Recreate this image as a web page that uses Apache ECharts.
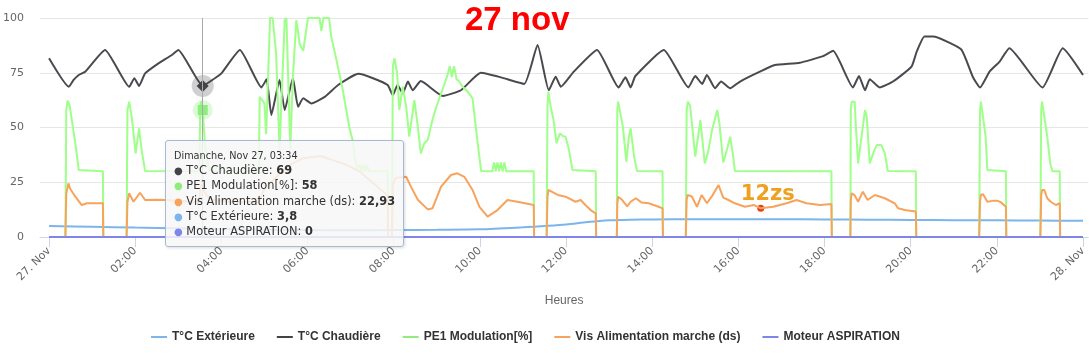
<!DOCTYPE html>
<html>
<head>
<meta charset="utf-8">
<script src="https://cdn.jsdelivr.net/npm/echarts@6/dist/echarts.min.js"></script>
<style>
html, body { margin: 0; padding: 0; background: #fff; }
#chart { width: 1089px; height: 353px; }
</style>
</head>
<body>
<div id="chart"></div>
<script>
// heures (0 = 27 nov 00:00, 24 = 28 nov 00:00)
var tickHours = [0, 2, 4, 6, 8, 10, 12, 14, 16, 18, 20, 22, 24];
var yTicks = [0, 25, 50, 75, 100];

// T°C Extérieure
var hExt = [0, 1, 2, 3, 3.567, 4.5, 6, 7, 8, 9, 10, 11, 11.5, 12, 12.5, 13, 13.5, 14, 15, 16, 17, 18, 19, 20, 21, 22, 23, 24];
var vExt = [5.0, 4.7, 4.3, 4.0, 3.8, 3.5, 3.2, 3.1, 3.2, 3.3, 3.5, 4.4, 5.0, 5.7, 6.8, 7.6, 7.9, 8.0, 8.1, 8.1, 8.1, 8.0, 7.9, 7.8, 7.7, 7.6, 7.5, 7.4];

// T°C Chaudière
var hChaud = [0, 0.46, 0.57, 0.69, 0.84, 1.30, 1.86, 1.98, 2.09, 2.23, 2.54, 2.85, 3.00, 3.567, 3.85, 4.00, 4.43, 4.93, 5.05, 5.16, 5.35, 5.47, 5.66, 5.78, 5.90, 6.09, 6.40, 6.71, 7.18, 7.52, 7.86, 7.98, 8.09, 8.21, 8.33, 8.44, 8.63, 9.14, 9.56, 10.02, 10.49, 11.03, 11.34, 11.60, 11.76, 11.88, 12.18, 12.72, 13.22, 13.38, 13.50, 13.61, 14.27, 14.84, 15.00, 15.16, 15.27, 15.46, 15.60, 15.81, 16.04, 16.50, 16.85, 17.43, 17.97, 18.20, 18.66, 18.80, 18.94, 19.05, 19.28, 19.59, 20.02, 20.14, 20.32, 20.52, 21.17, 21.44, 21.61, 21.83, 22.06, 22.29, 23.06, 23.53, 24];
var vChaud = [81.6, 68.6, 71.7, 74, 75.5, 85.4, 68.6, 72.5, 69, 74.7, 79.3, 83.1, 85.4, 69, 72.5, 74.7, 85.4, 68.3, 72, 55.7, 71.7, 58, 72.5, 59.5, 63.3, 61, 64, 69.4, 74.5, 72.5, 69.4, 64.8, 69.4, 65.6, 71, 67, 71.2, 64.4, 67, 75, 72.9, 69.9, 87.7, 67, 73.2, 68.6, 75.5, 85.4, 68.3, 72.9, 68.3, 73.5, 85.4, 68.3, 73.5, 69.9, 74, 67.9, 71, 67.9, 71, 75.5, 78.5, 79.6, 82.6, 85, 68.3, 73.5, 67, 72, 68.3, 71, 77.8, 84.6, 91.5, 91.5, 85.7, 73.2, 68.3, 75.5, 80, 86.2, 68.3, 86.2, 74];

// PE1 Modulation[%]
var hMod = [0, 0.38, 0.40, 0.43, 0.48, 0.61, 0.69, 1.25, 1.26,
  1.80, 1.82, 1.86, 1.92, 2.01, 2.09, 2.15, 2.23, 3.49, 3.51, 3.54, 3.567, 3.62, 3.70, 3.75, 4.87,
  4.89, 5.00, 5.04, 5.13, 5.19, 5.27, 5.35, 5.47, 5.51, 5.60, 5.66, 5.74, 5.82, 5.90, 6.01, 6.28, 6.32, 6.37, 6.50, 6.55, 6.67, 6.82, 6.97, 7.05, 7.10, 7.16, 7.22, 7.26, 7.30, 7.34, 7.38, 7.42, 7.86, 7.87,
  7.96, 7.98, 8.02, 8.08, 8.13, 8.21, 8.29, 8.36, 8.48, 8.56, 8.63, 8.71, 8.79, 8.90, 8.98, 9.10, 9.17, 9.25, 9.30, 9.35, 9.40, 9.46, 9.52, 9.60, 9.72, 9.83, 9.95, 10.03, 10.29, 10.33, 10.37, 10.41, 10.45, 10.49, 10.53, 10.57, 10.61, 11.25, 11.26,
  11.55, 11.57, 11.59, 11.64, 11.71, 11.78, 11.86, 11.93, 11.99, 12.07, 12.15, 12.69, 12.70,
  13.18, 13.19, 13.21, 13.25, 13.32, 13.40, 13.46, 13.50, 13.58, 13.65, 14.24, 14.25,
  14.78, 14.80, 14.83, 14.88, 15.00, 15.12, 15.22, 15.30, 15.39, 15.51, 15.56, 15.65, 15.75, 15.81, 15.88, 15.92, 18.16, 18.17,
  18.60, 18.61, 18.63, 18.70, 18.73, 18.78, 18.94, 18.98, 19.05, 19.13, 19.21, 19.32, 19.40, 19.47, 20.12, 20.13,
  21.59, 21.61, 21.63, 21.66, 21.74, 21.78, 22.21, 22.22,
  23.01, 23.03, 23.05, 23.09, 23.17, 23.24, 23.29, 23.46, 23.47, 24];
var vMod = [0, 0, 58, 62.3, 60, 42.8, 30.6, 30, 0,
  0, 58, 61.8, 55, 38.2, 49.6, 39.7, 30.1, 30, 60, 62, 58, 42, 32, 30, 30,
  64, 61, 47, 100, 100, 84, 40, 99, 100, 40, 73, 99, 88, 85, 100, 100, 94, 100, 100, 91.5, 81, 67, 50, 44, 36, 31, 33, 30, 33, 30, 33, 30, 30, 0,
  0, 78, 81.6, 74.7, 58, 68.6, 59.5, 45.8, 62.5, 50.4, 38.2, 42.8, 44.3, 53.4, 58.8, 65.6, 69.4, 74, 78, 73, 78, 72, 71, 68.6, 66.3, 63.3, 42.8, 30.1, 30, 34, 30, 34, 30, 34, 30, 34, 30, 30, 0,
  0, 60, 66.3, 60, 53.4, 42.8, 47.3, 46, 45.8, 39.7, 30.6, 30, 0,
  0, 58, 61.8, 61, 50.4, 34.4, 45.8, 49.6, 36.7, 30.1, 30, 0,
  0, 58, 61.8, 60, 36.7, 53.4, 33.6, 39, 48.9, 58, 52, 34, 41, 45.8, 36.7, 30.1, 30, 0,
  0, 58, 61.8, 61.8, 50, 33.6, 58, 55, 33.6, 38.2, 42, 42, 38.2, 30.1, 30, 0,
  0, 58, 61.8, 61.8, 45.8, 30.6, 30, 0,
  0, 58, 61.8, 61, 45.8, 33.6, 30, 30, 0, 0];

// Vis Alimentation marche (ds)
var hVis = [0, 0.38, 0.40, 0.45, 0.49, 0.61, 0.76, 0.88, 1.25, 1.26,
  1.80, 1.82, 1.86, 1.96, 2.11, 2.23, 2.50, 2.69, 3.49, 3.51, 3.54, 3.567, 3.65, 3.80, 4.20, 4.87, 5.00, 5.30, 5.60, 5.90, 6.30, 6.60, 6.90, 7.20, 7.50, 7.86, 7.87,
  7.96, 7.98, 8.05, 8.29, 8.40, 8.56, 8.79, 8.90, 9.10, 9.33, 9.48, 9.64, 9.83, 9.99, 10.18, 10.41, 10.64, 10.87, 11.25, 11.26,
  11.55, 11.57, 11.59, 11.81, 11.99, 12.22, 12.34, 12.45, 12.57, 12.69, 12.70,
  13.18, 13.19, 13.21, 13.30, 13.42, 13.50, 13.62, 13.75, 13.92, 14.15, 14.24, 14.25,
  14.78, 14.80, 14.82, 14.92, 15.04, 15.15, 15.27, 15.38, 15.54, 15.65, 15.77, 15.92, 16.15, 16.37, 16.52, 16.81, 17.12, 17.35, 17.58, 17.90, 18.16, 18.17,
  18.60, 18.61, 18.63, 18.70, 18.78, 18.89, 19.00, 19.17, 19.40, 19.63, 19.71, 19.86, 20.12, 20.13,
  21.59, 21.61, 21.63, 21.68, 21.78, 21.90, 22.01, 22.10, 22.21, 22.22,
  23.01, 23.03, 23.05, 23.10, 23.17, 23.25, 23.37, 23.46, 23.47, 24];
var vVis = [0, 0, 20, 24.5, 22, 18.4, 14.6, 15.4, 15.4, 0,
  0, 16, 20, 16.1, 20.2, 16.9, 17, 16.9, 16, 22, 24, 22.93, 19, 17, 16, 16, 22, 28, 33, 36, 37, 35, 33, 30, 25, 19, 0,
  0, 24, 27, 27.5, 23, 17, 12.6, 13.1, 23, 28.3, 29.1, 27.5, 21.5, 13.8, 9.3, 12.3, 16.9, 16.1, 14.6, 0,
  0, 18, 21.5, 19.2, 18.4, 16.1, 16.9, 14.6, 12.3, 10.8, 0,
  0, 15, 18.4, 17, 14, 16.1, 17.7, 15.8, 15.4, 13.8, 13.1, 0,
  0, 17, 19.2, 18.5, 13.8, 19.2, 15.4, 18.4, 23.7, 18, 16.9, 15.4, 13.8, 14.6, 13.1, 13.8, 15.4, 16.9, 15.4, 14.6, 15.1, 0,
  0, 17, 20, 19, 16.1, 20.7, 16.9, 19.2, 17.7, 15.4, 13.1, 12.3, 11.6, 0,
  0, 16, 19.2, 19.5, 16.1, 16.5, 16.6, 15.8, 13.8, 0,
  0, 19, 21.5, 21.5, 17.7, 16.1, 14.6, 15.4, 0, 0];

// Moteur ASPIRATION
var hMot = [0, 3.567, 24];
var vMot = [0, 0, 0];

var tipHour = 3.567;   // 03:34, point survolé
var noteHour = 16.52;  // annotation "12zs"

function pairs(h, v) {
  return h.map(function (x, i) { return [x, v[i]]; });
}
function at(h, v, x) { return v[h.indexOf(x)]; }
function pad(n) { return (n < 10 ? '0' : '') + n; }
function fr(v) { return String(v).replace('.', ','); }

var myChart = echarts.init(document.getElementById('chart'));
var option = {
  animation: false,
  title: {
    text: '27 nov',
    left: 465, top: 4, padding: 0,
    textStyle: { color: '#ff0000', fontSize: 33, fontWeight: 'bold', fontFamily: 'Liberation Sans' }
  },
  grid: { left: 38, right: 0, top: 18, bottom: 116 },
  legend: {
    left: 146, top: 326,
    icon: 'rect', itemWidth: 16, itemHeight: 2, itemGap: 22,
    textStyle: { fontFamily: 'Liberation Sans', fontSize: 12, fontWeight: 'bold', color: '#333' }
  },
  tooltip: {
    trigger: 'axis',
    triggerOn: 'none',
    alwaysShowContent: true,
    transitionDuration: 0,
    position: [165, 140],
    backgroundColor: 'rgba(247,247,247,0.85)',
    borderColor: '#a7bad3',
    borderWidth: 1,
    padding: [7, 8],
    extraCssText: 'box-shadow:1px 1px 3px rgba(0,0,0,0.15);border-radius:3px;',
    textStyle: { fontFamily: 'DejaVu Sans', fontSize: 11.4, color: '#333' },
    axisPointer: { type: 'line', lineStyle: { color: '#aaaaaa', width: 1, type: 'solid' } },
    formatter: function (params) {
      var h = params[0].axisValue;
      var hh = Math.floor(h), mm = Math.round((h - hh) * 60);
      var s = '<div style="font-size:9.7px;line-height:15px">Dimanche, Nov 27, ' + pad(hh) + ':' + pad(mm) + '</div>';
      params.slice().sort(function (a, b) { return b.value[1] - a.value[1]; }).forEach(function (p) {
        s += '<div style="line-height:14.3px"><span style="color:' + p.color + ';font-size:10px">\u25CF</span> ' +
          p.seriesName + ': <b>' + fr(p.value[1]) + '</b></div>';
      });
      return s;
    }
  },
  xAxis: {
    type: 'value',
    min: -0.21, max: 24.12,
    name: 'Heures',
    nameLocation: 'middle',
    nameGap: 58,
    nameTextStyle: { fontFamily: 'Liberation Sans', fontSize: 12, color: '#666' },
    axisLine: { lineStyle: { color: '#ccd6eb' } },
    axisTick: { show: true, length: 10, lineStyle: { color: '#ccd6eb' }, customValues: tickHours },
    splitLine: { show: false },
    axisLabel: {
      customValues: tickHours,
      rotate: 45,
      margin: 12,
      fontFamily: 'DejaVu Sans', fontSize: 11, color: '#666',
      formatter: function (v) {
        if (v === 0) return '27. Nov';
        if (v === 24) return '28. Nov';
        return pad(v) + ':00';
      }
    }
  },
  yAxis: {
    type: 'value',
    min: 0, max: 100, interval: 25,
    axisLine: { show: false },
    axisTick: { show: false },
    splitLine: { lineStyle: { color: '#e6e6e6' } },
    axisLabel: { margin: 16, fontFamily: 'DejaVu Sans', fontSize: 11, color: '#666' }
  },
  series: [
    {
      name: 'T°C Extérieure', type: 'line', data: pairs(hExt, vExt), z: 2,
      color: '#7cb5ec', symbol: 'none', smooth: 0.3, lineStyle: { width: 2 },
      emphasis: { disabled: true }
    },
    {
      name: 'T°C Chaudière', type: 'line', data: pairs(hChaud, vChaud), z: 3,
      color: '#434348', showSymbol: false, symbol: 'diamond', symbolSize: 12, smooth: 0.15,
      lineStyle: { width: 2 },
      emphasis: { scale: false, lineStyle: { width: 2 } },
      markPoint: {
        silent: true, symbol: 'circle', symbolSize: 22,
        itemStyle: { color: 'rgba(67,67,72,0.25)' }, label: { show: false },
        data: [{ coord: [tipHour, at(hChaud, vChaud, tipHour)] }]
      }
    },
    {
      name: 'PE1 Modulation[%]', type: 'line', data: pairs(hMod, vMod), z: 4,
      color: '#90ed7d', showSymbol: false, symbol: 'rect', symbolSize: 10,
      lineStyle: { width: 2 },
      emphasis: { scale: false, lineStyle: { width: 2 } },
      markPoint: {
        silent: true, symbol: 'circle', symbolSize: 20,
        itemStyle: { color: 'rgba(144,237,125,0.3)' }, label: { show: false },
        data: [{ coord: [tipHour, at(hMod, vMod, tipHour)] }]
      }
    },
    {
      name: 'Vis Alimentation marche (ds)', type: 'line', data: pairs(hVis, vVis), z: 5,
      color: '#f7a35c', symbol: 'none', lineStyle: { width: 2 },
      emphasis: { disabled: true },
      markPoint: {
        silent: true, symbol: 'circle', symbolSize: 7,
        itemStyle: { color: '#e8401c' },
        label: {
          show: true, position: 'top', distance: 0, offset: [7, 0],
          formatter: '12zs', color: '#f0a01e', fontSize: 21, fontWeight: 'bold', fontFamily: 'DejaVu Sans'
        },
        data: [{ coord: [noteHour, at(hVis, vVis, noteHour)] }]
      }
    },
    {
      name: 'Moteur ASPIRATION', type: 'line', data: pairs(hMot, vMot), z: 6,
      color: '#8085e9', symbol: 'none', lineStyle: { width: 2 },
      emphasis: { disabled: true }
    }
  ]
};

option && myChart.setOption(option);

var px = myChart.convertToPixel({ gridIndex: 0 }, [tipHour, 60]);
myChart.dispatchAction({ type: 'showTip', x: px[0], y: px[1] });
</script>
</body>
</html>
